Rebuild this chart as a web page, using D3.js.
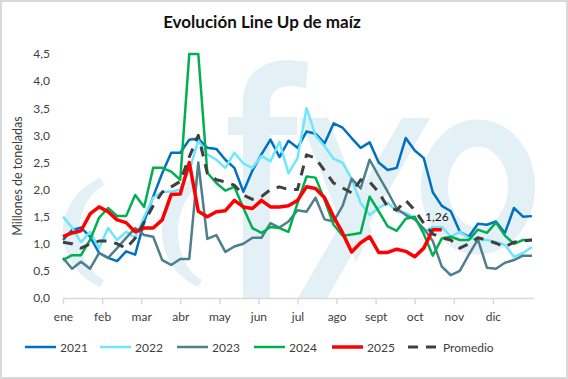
<!DOCTYPE html>
<html>
<head>
<meta charset="utf-8">
<script src="https://cdn.jsdelivr.net/npm/d3@7"></script>
<style>
  html, body { margin: 0; padding: 0; background: #fff; }
  svg { display: block; font-family: Lato, "Open Sans", sans-serif; }
</style>
</head>
<body>
<svg id="chart" width="568" height="379"></svg>
<script>
// ---------- DATA ----------
const monthLabels = ["ene","feb","mar","abr","may","jun","jul","ago","sept","oct","nov","dic"];
const yTicks = [0, 0.5, 1, 1.5, 2, 2.5, 3, 3.5, 4, 4.5];
const seriesNames = ["2021","2022","2023","2024","2025","Promedio"];

const y2021 = [1.07,1.25,1.30,1.13,0.83,0.74,0.68,0.86,0.80,1.41,1.87,2.30,2.68,2.68,2.92,2.94,2.77,2.75,2.55,2.40,1.96,2.35,2.65,2.92,2.60,2.90,2.77,3.07,3.03,2.85,3.22,3.14,2.95,2.77,2.87,2.50,2.36,2.40,2.95,2.72,2.58,1.95,1.70,1.60,1.22,1.13,1.37,1.35,1.41,1.20,1.66,1.50,1.51];
const y2022 = [1.50,1.30,1.03,1.22,0.92,1.29,1.07,1.22,1.11,1.50,1.85,1.96,1.96,2.00,2.35,2.90,2.65,2.55,2.40,2.68,2.48,2.40,2.62,2.52,2.88,2.30,2.58,3.50,3.00,2.80,2.57,2.49,2.20,1.75,1.53,1.66,1.76,1.60,1.57,1.48,1.22,1.31,1.31,1.13,1.22,1.10,1.08,1.07,1.03,0.98,0.76,0.83,0.94];
const y2023 = [0.74,0.54,0.67,0.54,0.83,0.74,0.92,1.11,1.29,1.16,1.13,0.70,0.61,0.72,0.72,2.50,1.09,1.16,0.85,0.95,1.00,1.11,1.11,1.38,1.30,1.41,1.62,1.59,1.85,1.45,1.41,1.70,2.20,2.02,2.55,2.25,1.96,1.65,1.53,1.45,1.28,1.05,0.58,0.42,0.50,0.80,1.08,0.56,0.54,0.65,0.70,0.78,0.78];
const y2024 = [0.70,0.79,0.79,1.07,1.48,1.66,1.51,1.51,1.90,1.68,2.40,2.40,2.33,2.18,4.50,4.50,2.31,2.12,1.98,2.05,1.66,1.29,1.20,1.31,1.29,1.22,1.75,2.24,2.22,1.81,1.35,1.15,1.17,1.20,1.87,1.60,1.32,1.24,1.46,1.50,1.18,0.78,1.10,1.13,1.07,1.07,1.26,1.20,1.39,1.15,1.00,1.07,1.07];
const y2025 = [1.13,1.20,1.24,1.55,1.68,1.59,1.44,1.39,1.22,1.29,1.29,1.44,1.91,1.92,2.50,1.60,1.50,1.59,1.61,1.80,1.68,1.65,1.80,1.68,1.68,1.70,1.80,2.05,2.02,1.85,1.50,1.20,0.85,1.02,1.13,0.84,0.84,0.90,0.86,0.76,0.92,1.26,1.26];
const yProm = [1.03,1.00,0.92,1.00,1.05,1.05,1.00,0.92,1.10,1.40,1.70,1.95,2.05,2.15,2.60,3.00,2.30,2.18,2.14,2.08,1.90,1.82,1.87,2.00,2.05,2.00,2.00,2.64,2.58,2.35,2.12,2.03,1.94,2.18,2.14,1.95,1.68,1.62,1.80,1.62,1.38,1.18,1.11,1.07,0.92,1.00,1.11,1.07,1.01,0.94,1.03,1.05,1.07];
const lastLabel = "1,26";

// ---------- STYLE ----------
const colors = {"2021":"#0070c0","2022":"#6ee6ff","2023":"#4e7f8c","2024":"#00b050","2025":"#ff0000","Promedio":"#404040"};
const widths = {"2021":2.5,"2022":2.5,"2023":2.5,"2024":2.5,"2025":3.5,"Promedio":3};
const dashes = {"Promedio":"10,8"};
const dataMap = {"2021":y2021,"2022":y2022,"2023":y2023,"2024":y2024,"2025":y2025,"Promedio":yProm};

const svg = d3.select("#chart");
const W = 568, H = 379;
const mLeft = 63, mRight = 532, mTop = 54, mBottom = 298;

// frame
svg.append("rect").attr("x",1).attr("y",1).attr("width",W-2).attr("height",H-2)
  .attr("fill","#fff").attr("stroke","#d9d9d9").attr("stroke-width",2);

// scales
const x = d3.scaleLinear().domain([0,52]).range([mLeft,mRight]);
const y = d3.scaleLinear().domain([0,4.5]).range([mBottom,mTop]);

// watermark
const wm = svg.append("g").attr("fill","#e3f0f5");
wm.append("path").attr("d","M100,178 C50.7,200 50.7,265 100,287 L104,280 C71,262 71,203 104,185 Z");
wm.append("path").attr("d","M198,175 C150,198 150,265 198,287 L202,280 C170,262 170,203 202,183 Z");
wm.append("path").attr("d","M243,298 L243,102 C243,74 262,60 290,60 L308,62 L306,88 L292,86 C276,86 270,93 270,106 L270,298 Z");
wm.append("rect").attr("x",228).attr("y",117).attr("width",69).attr("height",18);
wm.append("path").attr("d","M300,118 L328,118 L372,232 L356,262 Z");
wm.append("path").attr("d","M402,118 L430,118 L327,298 L298,298 Z");
wm.append("ellipse").attr("cx",478).attr("cy",187).attr("rx",43.5).attr("ry",54)
  .attr("fill","none").attr("stroke","#e3f0f5").attr("stroke-width",27);

// title
svg.append("text").attr("x",262).attr("y",28).attr("text-anchor","middle")
  .attr("font-size",17).attr("font-weight","bold").attr("fill","#111")
  .text("Evolución Line Up de maíz");

// y axis
const yAxis = d3.axisLeft(y).tickValues(yTicks).tickSize(0).tickPadding(13)
  .tickFormat(d => d3.format(".1f")(d).replace(".", ","));
const gy = svg.append("g").attr("transform",`translate(${mLeft},0)`).call(yAxis);
gy.select(".domain").remove();
gy.selectAll("text").attr("font-size",12).attr("fill","#404040").attr("font-family","Lato, sans-serif");

svg.append("text").attr("transform","translate(22,176) rotate(-90)")
  .attr("text-anchor","middle").attr("font-size",12.5).attr("fill","#404040")
  .text("Millones de toneladas");

// x axis
const monthTicks = monthLabels.map((m,i) => i*52/12);
const xAxis = d3.axisBottom(x).tickValues(monthTicks).tickSize(6).tickSizeOuter(0).tickPadding(8)
  .tickFormat((d,i) => monthLabels[i]);
const gx = svg.append("g").attr("transform",`translate(0,${mBottom})`).call(xAxis);
gx.select(".domain").attr("stroke","#d9d9d9").attr("stroke-width",1.5)
  .attr("d", `M${mLeft},0.5H${mRight+2}`);
gx.selectAll(".tick line").attr("stroke","#d9d9d9").attr("stroke-width",1.5);
gx.selectAll("text").attr("font-size",12).attr("fill","#404040").attr("font-family","Lato, sans-serif");

// lines
const line = d3.line().x((d,i) => x(i)).y(d => y(d)).curve(d3.curveLinear);
seriesNames.forEach(name => {
  svg.append("path").datum(dataMap[name])
    .attr("fill","none").attr("stroke",colors[name]).attr("stroke-width",widths[name])
    .attr("stroke-linejoin","round")
    .attr("stroke-dasharray",dashes[name] || null)
    .attr("d",line);
});

// data label
const li = y2025.length - 1;
svg.append("text").attr("x",x(li)-5).attr("y",y(y2025[li])-9)
  .attr("text-anchor","middle").attr("font-size",12).attr("fill","#111")
  .text(lastLabel);

// legend
const legX = [25,100,177,254,332,408];
const lg = svg.append("g");
seriesNames.forEach((name,i) => {
  const g = lg.append("g").attr("transform",`translate(${legX[i]},347)`);
  g.append("line").attr("x1",0).attr("x2",31).attr("y1",0).attr("y2",0)
    .attr("stroke",colors[name]).attr("stroke-width",widths[name])
    .attr("stroke-dasharray",dashes[name] || null);
  g.append("text").attr("x",35).attr("y",4.5)
    .attr("font-size",12).attr("fill","#404040").text(name);
});
</script>
</body>
</html>
